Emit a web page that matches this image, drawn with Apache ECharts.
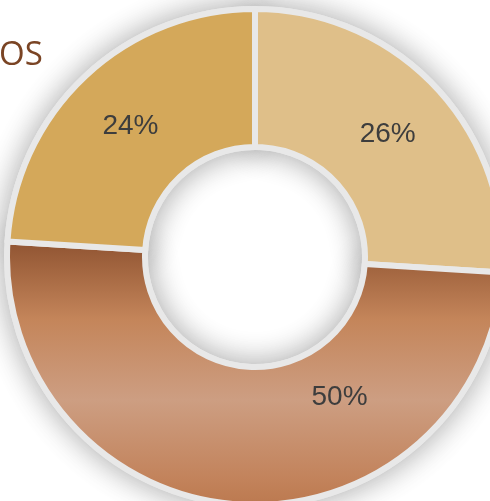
<!DOCTYPE html>
<html>
<head>
<meta charset="utf-8">
<script src="https://cdn.jsdelivr.net/npm/echarts@6/dist/echarts.min.js"></script>
<style>
  html, body { margin: 0; padding: 0; background: #ffffff; }
  #chart { width: 490px; height: 501px; }
</style>
</head>
<body>
<div id="chart"></div>
<script>
// Donut shares, clockwise from 12 o'clock
const categories = ['A', 'B', 'C'];
const shares = [26, 50, 24];
const titleText = 'OS';

const sliceColors = [
  '#dfbf89',
  new echarts.graphic.LinearGradient(0, 0, 0, 1, [
    { offset: 0.00, color: '#8e5230' },
    { offset: 0.30, color: '#c4855a' },
    { offset: 0.60, color: '#cd9e82' },
    { offset: 0.90, color: '#c2825a' },
    { offset: 1.00, color: '#bb784e' }
  ]),
  '#d4a85a'
];

const ringCenter = [255, 257];
const ringRadius = [110, 248];
const gapColor = '#e8e8e8';

const chart = echarts.init(document.getElementById('chart'), null, { renderer: 'canvas' });

chart.setOption({
  backgroundColor: '#ffffff',
  animation: false,
  title: {
    text: titleText,
    left: -1,
    top: 39,
    padding: 0,
    textStyle: {
      fontFamily: 'Open Sans',
      fontSize: 33,
      fontWeight: 'normal',
      color: '#7a4424'
    }
  },
  series: [
    // soft shadow layer under the ring
    {
      type: 'pie',
      silent: true,
      z: 1,
      center: ringCenter,
      radius: ringRadius,
      startAngle: 90,
      label: { show: false },
      labelLine: { show: false },
      itemStyle: {
        color: gapColor,
        borderColor: gapColor,
        borderWidth: 6,
        shadowBlur: 30,
        shadowColor: 'rgba(0,0,0,0.32)'
      },
      data: categories.map((c, i) => ({ name: c, value: shares[i] }))
    },
    // coloured slices
    {
      type: 'pie',
      z: 2,
      center: ringCenter,
      radius: ringRadius,
      startAngle: 90,
      clockwise: true,
      avoidLabelOverlap: false,
      itemStyle: {
        borderColor: gapColor,
        borderWidth: 6
      },
      label: {
        show: true,
        position: 'inside',
        formatter: '{d}%',
        fontFamily: 'Liberation Sans',
        fontSize: 28,
        color: '#3d3d3d'
      },
      labelLine: { show: false },
      labelLayout: function (p) {
        if (p.dataIndex === 1) {
          return { dx: 96, dy: -41 };
        }
        return { dy: 2 };
      },
      data: categories.map((c, i) => ({
        name: c,
        value: shares[i],
        itemStyle: { color: sliceColors[i] }
      }))
    }
  ]
});
</script>
</body>
</html>
